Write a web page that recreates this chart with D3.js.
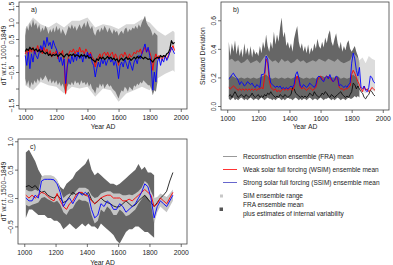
<!DOCTYPE html>
<html>
<head>
<meta charset="utf-8">
<script src="https://cdn.jsdelivr.net/npm/d3@7"></script>
<style>
  body { margin: 0; background: #fff; }
  svg { display: block; font-family: "Liberation Sans", Arial, sans-serif; }
  .axis text { font-size: 6.8px; fill: #222; }
  .axis line { stroke: #333; stroke-width: 0.7; }
</style>
</head>
<body>
<div id="chart"></div>
<script>
// ---------- panel a: temperature anomalies (every 10 yr) ----------
const yearsA = d3.range(1000, 1961, 10);
const fraMeanA = [
  0.12, 0.2, 0.15, 0.25, 0.18, 0.22, 0.15, 0.2, 0.12, 0.18,
  0.1, 0.15, 0.08, 0.05, 0.1, 0.0, 0.05, -0.02, 0.03, 0.0,
  0.05, -0.03, 0.02, 0.06, 0.0, -0.05, 0.02, 0.05, -0.02, 0.03,
  0.0, 0.05, -0.03, 0.02, 0.0, -0.05, 0.03, -0.02, 0.02, -0.05,
  0.0, -0.08, -0.05, -0.12, -0.15, -0.2, -0.1, -0.15, -0.05, -0.1,
  -0.05, -0.12, -0.08, -0.03, -0.1, -0.05, -0.12, -0.08, -0.15, -0.1,
  -0.2, -0.12, -0.08, -0.15, -0.1, -0.05, -0.12, -0.08, -0.15, -0.1,
  -0.05, -0.1, -0.03, -0.08, -0.02, -0.06, -0.1, -0.05, -0.08, -0.12,
  -0.1, -0.15, -0.2, -0.12, -0.08, -0.05, -0.08, 0.0, -0.05, 0.0,
  -0.03, 0.05, 0.08, 0.2, 0.45, 0.35, 0.4
];
const wsimA = [
  0.05, 0.15, 0.0, 0.2, 0.1, 0.25, 0.05, 0.15, 0.3, 0.1,
  0.2, 0.05, 0.25, 0.1, 0.2, 0.0, 0.15, -0.05, 0.1, 0.05,
  0.15, -0.1, 0.1, 0.05, 0.15, -0.2, -1.15, -0.3, 0.05, 0.15,
  0.1, 0.2, 0.05, 0.15, 0.1, 0.25, 0.1, 0.15, 0.05, 0.2,
  0.1, 0.0, 0.1, -0.05, -0.1, -0.35, -0.15, -0.05, 0.05, -0.1,
  0.05, 0.1, 0.0, 0.1, -0.05, 0.05, 0.1, -0.1, 0.05, -0.05,
  -0.3, 0.0, 0.05, -0.05, 0.1, 0.0, -0.1, 0.05, -0.05, 0.0,
  0.1, 0.05, 0.15, 0.1, 0.2, 0.05, 0.15, 0.25, 0.1, 0.2,
  0.1, -0.05, -0.45, -0.1, 0.05, -0.1, 0.0, -0.05, -0.15, 0.0,
  -0.05, -0.1, 0.0, 0.1, 0.2, 0.3, 0.15
];
const ssimA = [
  0.0, -0.3, 0.1, -0.4, 0.05, -0.2, 0.15, 0.0, -0.1, 0.1,
  0.3, 0.15, 0.45, 0.25, 0.55, 0.3, 0.4, 0.2, 0.45, 0.3,
  0.2, 0.05, -0.2, -0.05, -0.3, -0.1, -0.85, -0.35, -0.1, -0.25,
  0.0, -0.2, 0.05, -0.15, 0.1, -0.1, 0.0, -0.2, 0.05, -0.1,
  0.1, -0.05, 0.05, -0.2, -0.3, -0.65, -0.4, -0.2, -0.35, -0.1,
  -0.25, -0.1, -0.3, -0.15, -0.05, -0.2, -0.1, -0.3, -0.15, -0.35,
  -0.7, -0.3, -0.2, -0.35, -0.1, -0.25, -0.4, -0.15, -0.3, -0.45,
  -0.2, -0.1, -0.25, 0.0, -0.1, 0.05, 0.2, 0.35, 0.1, 0.25,
  0.0, -0.3, -1.05, -0.5, -0.8, -0.2, -0.05, -0.3, -0.1, -0.2,
  0.0, -0.15, -0.05, 0.1, 0.25, 0.15, 0.05
];
// FRA mean + internal variability (1000-1850)
const bandYearsA = d3.range(1000, 1851, 10);
const fraHiA = [
  0.6, 0.9, 0.75, 1.0, 0.85, 1.1, 0.9, 1.0, 0.8, 0.95,
  0.7, 0.85, 0.75, 0.9, 0.8, 0.65, 0.8, 0.7, 0.85, 0.7,
  0.9, 0.75, 0.85, 0.65, 0.8, 0.7, 0.6, 0.75, 0.9, 0.8,
  0.95, 0.8, 0.9, 0.75, 0.85, 0.95, 0.8, 0.9, 1.0, 0.85,
  1.05, 0.9, 0.8, 0.9, 0.7, 0.6, 0.75, 0.8, 0.7, 0.85,
  0.75, 0.9, 0.8, 0.7, 0.85, 0.75, 0.65, 0.8, 0.7, 0.75,
  0.6, 0.7, 0.75, 0.65, 0.8, 0.85, 0.7, 0.8, 0.75, 0.85,
  0.8, 0.9, 0.8, 0.95, 0.85, 1.0, 1.1, 1.2, 1.0, 0.9,
  0.85, 0.75, 0.6, 0.7, 0.65, 0.6
];
const fraLoA = [
  -0.7, -0.9, -0.75, -1.0, -0.8, -0.9, -0.75, -0.85, -0.7, -0.8,
  -0.65, -0.75, -0.7, -0.6, -0.7, -0.8, -0.7, -0.85, -0.75, -0.85,
  -0.75, -0.9, -0.8, -0.95, -0.85, -1.0, -1.2, -0.95, -0.85, -0.9,
  -0.8, -0.9, -0.75, -0.85, -0.8, -0.9, -0.75, -0.85, -0.8, -0.9,
  -0.8, -0.95, -0.85, -1.0, -1.05, -1.15, -0.95, -1.0, -0.85, -0.95,
  -0.85, -1.0, -0.9, -0.85, -0.95, -0.9, -1.0, -1.05, -1.1, -1.2,
  -1.3, -1.15, -1.05, -1.1, -0.95, -1.0, -1.1, -0.95, -1.0, -1.05,
  -0.9, -0.95, -0.85, -0.9, -0.8, -0.85, -0.75, -0.8, -0.85, -0.9,
  -0.9, -1.0, -1.2, -1.05, -1.1, -0.8
];
// SIM ensemble range
const simYearsA = [1000, 1050, 1100, 1150, 1200, 1250, 1300, 1350, 1400, 1450, 1500,
  1550, 1600, 1650, 1700, 1750, 1800, 1850, 1900, 1950, 1960];
const simHiA = [0.8, 1.15, 0.95, 0.85, 1.0, 0.85, 1.05, 1.05, 1.15, 0.85, 0.95,
  0.9, 0.8, 0.95, 0.95, 1.1, 1.0, 0.75, 0.6, 0.75, 0.7];
const simLoA = [-0.9, -1.05, -0.8, -0.9, -0.95, -1.15, -0.95, -1.0, -0.95, -1.25, -1.0,
  -1.05, -1.4, -1.15, -1.05, -0.95, -1.05, -0.7, -0.55, -0.45, -0.5];

// ---------- panel b: running standard deviation ----------
const yearsB = d3.range(1010, 1951, 10);
const fraSdB = [
  0.07, 0.08, 0.06, 0.08, 0.1, 0.08, 0.06, 0.07, 0.08, 0.07,
  0.06, 0.08, 0.07, 0.06, 0.07, 0.09, 0.07, 0.06, 0.07, 0.08,
  0.06, 0.07, 0.06, 0.08, 0.07, 0.09, 0.08, 0.1, 0.08, 0.07,
  0.06, 0.07, 0.06, 0.08, 0.07, 0.06, 0.08, 0.07, 0.06, 0.07,
  0.08, 0.13, 0.12, 0.09, 0.08, 0.07, 0.06, 0.07, 0.06, 0.07,
  0.06, 0.07, 0.09, 0.08, 0.07, 0.1, 0.08, 0.07, 0.06, 0.07,
  0.09, 0.08, 0.1, 0.09, 0.07, 0.06, 0.08, 0.07, 0.06, 0.07,
  0.08, 0.09, 0.1, 0.08, 0.07, 0.06, 0.07, 0.06, 0.08, 0.1,
  0.16, 0.15, 0.12, 0.14, 0.12, 0.1, 0.09, 0.06, 0.05, 0.07,
  0.08, 0.11, 0.1, 0.08, 0.07
];
const wsimSdB = [
  0.13, 0.12, 0.13, 0.14, 0.13, 0.12, 0.11, 0.12, 0.11, 0.12,
  0.11, 0.12, 0.11, 0.12, 0.11, 0.12, 0.11, 0.12, 0.11, 0.12,
  0.12, 0.13, 0.12, 0.2, 0.33, 0.3, 0.18, 0.13, 0.12, 0.11,
  0.12, 0.1, 0.11, 0.1, 0.11, 0.12, 0.11, 0.12, 0.11, 0.12,
  0.12, 0.11, 0.13, 0.18, 0.21, 0.18, 0.13, 0.12, 0.13, 0.12,
  0.11, 0.12, 0.13, 0.12, 0.11, 0.12, 0.13, 0.18, 0.2, 0.21,
  0.19, 0.18, 0.2, 0.21, 0.2, 0.2, 0.18, 0.17, 0.18, 0.2,
  0.19, 0.13, 0.12, 0.12, 0.11, 0.12, 0.12, 0.13, 0.14, 0.22,
  0.25, 0.23, 0.2, 0.17, 0.15, 0.12, 0.1, 0.14, 0.11, 0.12,
  0.1, 0.11, 0.13, 0.12, 0.11
];
const ssimSdB = [
  0.19, 0.2, 0.22, 0.23, 0.21, 0.2, 0.18, 0.15, 0.17, 0.16,
  0.14, 0.15, 0.17, 0.16, 0.15, 0.16, 0.14, 0.13, 0.15, 0.14,
  0.13, 0.22, 0.22, 0.23, 0.35, 0.33, 0.22, 0.16, 0.15, 0.14,
  0.13, 0.14, 0.13, 0.14, 0.12, 0.13, 0.12, 0.13, 0.12, 0.13,
  0.14, 0.13, 0.15, 0.22, 0.24, 0.2, 0.14, 0.13, 0.15, 0.14,
  0.13, 0.14, 0.16, 0.15, 0.14, 0.13, 0.15, 0.2, 0.21, 0.2,
  0.18, 0.17, 0.2, 0.21, 0.19, 0.22, 0.19, 0.17, 0.18, 0.21,
  0.2, 0.14, 0.15, 0.14, 0.13, 0.14, 0.13, 0.15, 0.16, 0.3,
  0.37, 0.33, 0.25, 0.21, 0.27, 0.13, 0.12, 0.14, 0.11, 0.1,
  0.13, 0.21, 0.2, 0.17, 0.16
];
const bandYearsB = d3.range(1010, 1851, 10);
const fraHiB = [
  0.45, 0.35, 0.44, 0.38, 0.46, 0.36, 0.43, 0.35, 0.4, 0.34,
  0.44, 0.36, 0.41, 0.35, 0.42, 0.34, 0.4, 0.36, 0.38, 0.35,
  0.42, 0.37, 0.45, 0.4, 0.5, 0.42, 0.38, 0.45, 0.4, 0.52,
  0.43, 0.5, 0.45, 0.55, 0.62, 0.48, 0.52, 0.42, 0.45, 0.4,
  0.44, 0.38, 0.47, 0.52, 0.56, 0.45, 0.4, 0.44, 0.38, 0.42,
  0.37, 0.43, 0.36, 0.41, 0.38, 0.44, 0.4, 0.47, 0.42, 0.4,
  0.45, 0.41, 0.48, 0.44, 0.5, 0.53, 0.45, 0.42, 0.47, 0.51,
  0.44, 0.4, 0.45, 0.38, 0.42, 0.39, 0.44, 0.46, 0.4, 0.38,
  0.4, 0.42, 0.38, 0.35, 0.3
];
const fraLoB = [
  0.05, 0.04, 0.05, 0.06, 0.04, 0.05, 0.04, 0.05, 0.06, 0.05,
  0.04, 0.05, 0.04, 0.05, 0.06, 0.05, 0.04, 0.05, 0.05, 0.04,
  0.05, 0.06, 0.05, 0.04, 0.05, 0.06, 0.05, 0.05, 0.04, 0.05,
  0.04, 0.05, 0.06, 0.05, 0.04, 0.05, 0.04, 0.05, 0.06, 0.05,
  0.05, 0.04, 0.05, 0.06, 0.05, 0.04, 0.05, 0.04, 0.05, 0.05,
  0.04, 0.05, 0.06, 0.05, 0.04, 0.05, 0.05, 0.04, 0.05, 0.06,
  0.05, 0.04, 0.05, 0.05, 0.06, 0.05, 0.04, 0.05, 0.04, 0.05,
  0.06, 0.05, 0.04, 0.05, 0.05, 0.04, 0.05, 0.06, 0.05, 0.05,
  0.06, 0.07, 0.06, 0.07, 0.06
];
const simYearsB = d3.range(1010, 1951, 20);
const simHiB = [
  0.32, 0.33, 0.31, 0.32, 0.3, 0.31, 0.33, 0.3, 0.31, 0.32,
  0.3, 0.33, 0.36, 0.33, 0.31, 0.32, 0.3, 0.33, 0.31, 0.32,
  0.3, 0.31, 0.33, 0.31, 0.32, 0.3, 0.31, 0.32, 0.31, 0.33,
  0.32, 0.31, 0.33, 0.32, 0.31, 0.33, 0.31, 0.3, 0.31, 0.32,
  0.37, 0.35, 0.32, 0.34, 0.3, 0.35, 0.33, 0.32
];
const simLoB = [
  0.2, 0.21, 0.2, 0.19, 0.2, 0.19, 0.2, 0.19, 0.2, 0.19,
  0.2, 0.21, 0.22, 0.2, 0.19, 0.2, 0.19, 0.2, 0.19, 0.2,
  0.19, 0.2, 0.21, 0.2, 0.19, 0.2, 0.19, 0.2, 0.19, 0.21,
  0.21, 0.2, 0.21, 0.2, 0.2, 0.21, 0.19, 0.2, 0.19, 0.2,
  0.22, 0.2, 0.12, 0.1, 0.09, 0.1, 0.11, 0.1
];

// ---------- panel c: smoothed anomalies ----------
const yearsC = d3.range(1010, 1951, 20);
const fraMeanC = [
  0.2, 0.22, 0.18, 0.22, 0.15, 0.1, 0.12, 0.05, 0.02, 0.0,
  0.05, 0.0, -0.08, -0.05, 0.03, 0.1, 0.06, 0.1, 0.08, 0.05,
  0.1, -0.03, -0.1, -0.06, 0.0, -0.05, -0.08, -0.1, -0.14, -0.16,
  -0.15, -0.1, -0.05, -0.1, -0.15, -0.12, -0.05, 0.0, 0.05, -0.02,
  -0.08, -0.15, -0.08, 0.0, 0.05, 0.12, 0.3, 0.45
];
const wsimC = [
  0.05, 0.0, 0.05, 0.0, 0.05, 0.1, 0.08, 0.03, -0.02, -0.05,
  0.08, -0.05, -0.15, -0.2, -0.1, -0.05, 0.05, 0.1, 0.1, 0.05,
  0.03, -0.05, -0.1, -0.05, 0.0, 0.03, 0.05, 0.05, 0.0, 0.0,
  0.0, -0.05, -0.05, -0.02, -0.05, 0.0, 0.05, 0.1, 0.15, 0.1,
  0.05, -0.15, -0.1, 0.0, -0.05, -0.1, 0.0, 0.1
];
const ssimC = [
  0.0, -0.05, -0.05, 0.05, 0.0, 0.3, 0.33, 0.33, 0.33, 0.32,
  0.25, 0.1, -0.15, -0.05, 0.0, -0.1, 0.0, 0.1, 0.05, 0.1,
  0.05, -0.2, -0.35, -0.3, -0.1, -0.15, -0.05, -0.1, -0.2, -0.2,
  -0.1, -0.15, -0.25, -0.2, -0.15, -0.1, 0.0, 0.1, 0.25, 0.2,
  0.0, -0.35, -0.15, -0.05, -0.1, -0.15, -0.05, 0.05
];
const simHiC = [
  0.15, 0.12, 0.12, 0.15, 0.12, 0.38, 0.4, 0.4, 0.4, 0.38,
  0.32, 0.15, 0.0, 0.05, 0.08, 0.05, 0.12, 0.18, 0.18, 0.18,
  0.15, 0.05, 0.0, 0.02, 0.08, 0.1, 0.12, 0.12, 0.08, 0.08,
  0.08, 0.05, 0.05, 0.06, 0.05, 0.08, 0.12, 0.18, 0.3, 0.25,
  0.12, 0.0, 0.02, 0.08, 0.05, 0.02, 0.08, 0.15
];
const simLoC = [
  -0.12, -0.15, -0.12, -0.1, -0.08, 0.0, 0.02, -0.02, -0.05, -0.08,
  -0.05, -0.12, -0.25, -0.3, -0.2, -0.18, -0.08, -0.02, -0.05, -0.05,
  -0.08, -0.3, -0.45, -0.4, -0.2, -0.25, -0.15, -0.2, -0.3, -0.3,
  -0.2, -0.25, -0.32, -0.3, -0.25, -0.2, -0.1, -0.02, 0.05, 0.0,
  -0.1, -0.45, -0.25, -0.15, -0.2, -0.25, -0.15, -0.05
];
const bandYearsC = d3.range(1010, 1831, 20);
const fraHiC = [
  0.8, 0.85, 0.75, 0.65, 0.5, 0.4, 0.3, 0.35, 0.3, 0.25,
  0.3, 0.2, 0.15, 0.25, 0.3, 0.35, 0.45, 0.5, 0.55, 0.6,
  0.7, 0.5, 0.4, 0.45, 0.4, 0.35, 0.3, 0.25, 0.25, 0.22,
  0.25, 0.3, 0.35, 0.4, 0.45, 0.5, 0.6, 0.5, 0.55, 0.45,
  0.45, 0.4
];
const fraLoC = [
  -0.35, -0.2, -0.2, -0.25, -0.3, -0.3, -0.3, -0.35, -0.35, -0.4,
  -0.4, -0.45, -0.55, -0.5, -0.45, -0.5, -0.55, -0.5, -0.45, -0.5,
  -0.45, -0.5, -0.5, -0.55, -0.45, -0.5, -0.55, -0.6, -0.65, -0.75,
  -0.8, -0.7, -0.6, -0.55, -0.55, -0.5, -0.5, -0.55, -0.6, -0.6,
  -0.65, -0.7
];

const xTicks = [1000, 1200, 1400, 1600, 1800, 2000];
const legendLabels = [
  "Reconstruction ensemble (FRA) mean",
  "Weak solar full forcing (WSIM) ensemble mean",
  "Strong solar full forcing (SSIM) ensemble mean",
  "SIM ensemble range",
  "FRA ensemble mean",
  "plus estimates of internal variability"
];

const W = 393, H = 265;
const svg = d3.select("#chart").append("svg").attr("width", W).attr("height", H);

function zip(xs, ys) {
  return xs.map((x, i) => ({ x: x, y: ys[i] }));
}
function zipBand(xs, lo, hi) {
  return xs.map((x, i) => ({ x: x, lo: lo[i], hi: hi[i] }));
}

class Panel {
  constructor(cfg) {
    this.cfg = cfg;
    const vis = this;
    vis.x = d3.scaleLinear().domain([960, 2040]).range([cfg.left, cfg.right]);
    vis.y = d3.scaleLinear().domain(cfg.yDomain).range([cfg.bottom, cfg.top]);
    vis.g = svg.append("g");
  }

  band(data, fill, opacity) {
    const vis = this;
    const area = d3.area()
      .x((d) => vis.x(d.x))
      .y0((d) => vis.y(d.lo))
      .y1((d) => vis.y(d.hi));
    vis.g.append("path").datum(data)
      .attr("d", area).attr("fill", fill)
      .attr("fill-opacity", opacity == null ? 1 : opacity);
  }

  line(data, color, width) {
    const vis = this;
    const line = d3.line().x((d) => vis.x(d.x)).y((d) => vis.y(d.y));
    vis.g.append("path").datum(data)
      .attr("d", line).attr("fill", "none")
      .attr("stroke", color).attr("stroke-width", width || 0.9)
      .attr("stroke-linejoin", "round");
  }

  axes() {
    const vis = this, c = vis.cfg;
    vis.g.append("rect")
      .attr("x", c.left).attr("y", c.top)
      .attr("width", c.right - c.left).attr("height", c.bottom - c.top)
      .attr("fill", "none").attr("stroke", "#444").attr("stroke-width", 0.8);

    const xa = vis.g.append("g").attr("class", "axis")
      .attr("transform", `translate(0,${c.bottom})`)
      .call(d3.axisBottom(vis.x).tickValues(xTicks).tickSize(3).tickPadding(3).tickFormat(d3.format("d")));
    xa.select(".domain").remove();

    const ya = vis.g.append("g").attr("class", "axis")
      .attr("transform", `translate(${c.left},0)`)
      .call(d3.axisLeft(vis.y).tickValues(c.yTicks).tickSize(3)
        .tickFormat((d) => (c.yLabels.includes(d) ? d3.format(".1f")(d).replace("-", "\u2212") : "")));
    ya.select(".domain").remove();
    ya.selectAll("text")
      .attr("transform", "rotate(-90)")
      .attr("x", 0).attr("y", -5).attr("dy", 0)
      .attr("text-anchor", "middle");

    vis.g.append("text")
      .attr("x", (c.left + c.right) / 2).attr("y", c.bottom + c.xTitleGap)
      .attr("text-anchor", "middle").attr("font-size", 6.8).attr("fill", "#222")
      .text("Year AD");

    vis.g.append("text")
      .attr("transform", `translate(${c.yTitleX},${(c.top + c.bottom) / 2}) rotate(-90)`)
      .attr("text-anchor", "middle").attr("font-size", 6.8).attr("fill", "#222")
      .text(c.yTitle);

    vis.g.append("text")
      .attr("x", c.left + 12).attr("y", c.top + 10)
      .attr("font-size", 6.8).attr("fill", "#222")
      .text(c.tag);
  }
}

// panel a
const pa = new Panel({
  left: 19, right: 187, top: 2, bottom: 109, yDomain: [-1.62, 1.62],
  yTicks: [-1.5, -1, -0.5, 0, 0.5, 1, 1.5], yLabels: [-1.5, -0.5, 0.5, 1, 1.5],
  yTitle: "dT w.r.t. 1000\u20131849", yTitleX: 5.6, xTitleGap: 19.5, tag: "a)"
});
pa.band(zipBand(simYearsA, simLoA, simHiA), "#d6d6d6");
pa.band(zipBand(bandYearsA, fraLoA, fraHiA), "#7b7b7b");
pa.line(zip(yearsA, wsimA), "#ff0000");
pa.line(zip(yearsA, ssimA), "#0000ff");
pa.line(zip(yearsA, fraMeanA), "#000000", 1.2);
pa.axes();

// panel b
const pb = new Panel({
  left: 221, right: 389, top: 2, bottom: 110, yDomain: [-0.028, 0.728],
  yTicks: [0, 0.2, 0.4, 0.6], yLabels: [0, 0.2, 0.4, 0.6],
  yTitle: "Standard Deviation", yTitleX: 205, xTitleGap: 18.5, tag: "b)"
});
pb.band(zipBand(bandYearsB, fraLoB, fraHiB), "#666666");
pb.band(zipBand(simYearsB, simLoB, simHiB), "#c4c4c4", 0.6);
pb.line(zip(yearsB, fraSdB), "#000000", 0.8);
pb.line(zip(yearsB, wsimSdB), "#ff0000", 0.9);
pb.line(zip(yearsB, ssimSdB), "#0000ff", 0.9);
pb.axes();

// panel c
const pc = new Panel({
  left: 18, right: 187, top: 139, bottom: 244, yDomain: [-0.81, 1.04],
  yTicks: [-0.5, 0, 0.5, 1], yLabels: [-0.5, 0, 0.5, 1],
  yTitle: "dT w.r.t. 1500\u20131849", yTitleX: 5.6, xTitleGap: 20.5, tag: "c)"
});
pc.band(zipBand(bandYearsC, fraLoC, fraHiC), "#666666");
pc.band(zipBand(yearsC, simLoC, simHiC), "#c4c4c4");
pc.line(zip(yearsC, fraMeanC), "#000000", 0.8);
pc.line(zip(yearsC, wsimC), "#ff0000", 0.9);
pc.line(zip(yearsC, ssimC), "#0000ff", 0.9);
pc.axes();

// legend
const legend = svg.append("g").attr("font-size", 6.5);
const legendLines = [
  { y: 156.5, color: "#808080" },
  { y: 169.5, color: "#ff0000" },
  { y: 182.5, color: "#4040c0" }
];
legendLines.forEach((d, i) => {
  legend.append("line").attr("x1", 223).attr("x2", 237).attr("y1", d.y).attr("y2", d.y)
    .attr("stroke", d.color).attr("stroke-width", 0.8)
    .attr("shape-rendering", "crispEdges");
  legend.append("text").attr("x", 243).attr("y", d.y + 2).attr("fill", "#222").text(legendLabels[i]);
});
legend.append("rect").attr("x", 220).attr("y", 194.5).attr("width", 3).attr("height", 3).attr("fill", "#c8c8c8");
legend.append("text").attr("x", 243).attr("y", 198.3).attr("fill", "#222").text(legendLabels[3]);
legend.append("rect").attr("x", 219.5).attr("y", 207.5).attr("width", 3.5).attr("height", 3.5).attr("fill", "#555");
legend.append("text").attr("x", 243).attr("y", 207.3).attr("fill", "#222").text(legendLabels[4]);
legend.append("text").attr("x", 243).attr("y", 216.3).attr("fill", "#222").text(legendLabels[5]);
</script>
</body>
</html>
